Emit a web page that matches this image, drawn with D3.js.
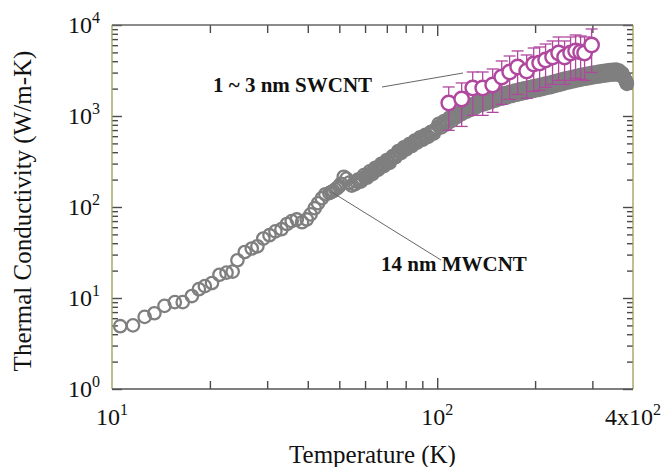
<!DOCTYPE html>
<html>
<head>
<meta charset="utf-8">
<script src="https://cdn.jsdelivr.net/npm/d3@7"></script>
<style>
  body { margin: 0; background: #fff; }
  text { font-family: "Liberation Serif", "Times New Roman", serif; }
</style>
</head>
<body>
<div id="chart"></div>
<script>
// data
// 14 nm MWCNT (grey open circles)
const mwT = [10.6, 11.6, 12.6, 13.5, 14.5, 15.6, 16.5, 17.6, 18.5, 19.3, 20.3, 21.4, 22.5, 23.5, 24.3, 25.6, 26.9, 28.0, 29.2, 30.5,
  31.8, 33.2, 34.5, 35.7, 37.0, 38.4, 39.7, 40.8, 42.0, 43.0, 44.2, 45.3, 46.6, 47.9, 49.3, 50.6, 51.6, 52.6, 53.6, 54.6,
  55.8, 57.0, 58.2, 59.5, 60.8, 62.0, 63.2, 64.5, 65.8, 67.2, 68.6, 70.0, 71.4, 72.9, 74.4, 75.9, 77.4, 78.9, 80.4, 82.0,
  83.6, 85.2, 86.8, 88.5, 90.2, 92.0, 93.8, 95.6, 97.5, 99.4,
  101, 103, 105, 107, 109, 111, 113, 115, 117, 119, 121, 123, 125, 127, 129, 131, 133, 135, 137, 139, 141, 143, 145, 147, 149,
  152, 155, 158, 161, 164, 167, 170, 173, 176, 179, 182, 185, 188, 191, 194, 197, 200, 203, 206, 209, 212, 215, 218, 221, 224,
  227, 230, 233, 236, 239, 242, 245, 248, 251, 255, 259, 263, 267, 271, 275, 279, 283, 287, 291, 295, 299, 303, 307, 311, 315,
  319, 323, 327, 331, 335, 339, 343, 347, 351, 355, 359, 363, 367, 371, 375, 378, 381, 383]
const mwK = [4.9, 5.0, 6.2, 6.8, 8.2, 9.0, 9.0, 10.5, 12.5, 13.5, 14.6, 18, 19, 19.5, 26, 32, 35, 37, 45, 49,
  54, 57, 65, 70, 73, 68, 73, 83, 97, 110, 125, 138, 142, 150, 162, 180, 215, 205, 185, 172,
  178, 200, 190, 224, 210, 246, 230, 270, 256, 298, 282, 328, 306, 362, 352, 412, 392, 452, 430, 490,
  468, 536, 510, 582, 548, 622, 590, 670, 640, 730,
  820, 750, 880, 810, 955, 885, 1050, 975, 1145, 1050, 1220, 1115, 1290, 1170, 1355, 1230, 1425, 1305, 1495, 1345, 1540, 1385, 1590, 1430, 1635,
  1485, 1710, 1550, 1780, 1610, 1845, 1660, 1900, 1715, 1960, 1765, 2015, 1810, 2065, 1855, 2120, 1900, 2160, 1935, 2215, 1990, 2270, 2035, 2320, 2080,
  2380, 2135, 2440, 2190, 2500, 2240, 2560, 2295, 2610, 2350, 2680, 2410, 2750, 2470, 2815, 2525, 2875, 2570, 2925, 2620, 2980, 2665, 3025, 2700, 3070,
  2740, 3110, 2780, 3150, 2815, 3190, 2840, 3210, 2860, 3230, 2860, 3150, 2780, 2950, 2680, 2520, 2380, 2260]
// the dense part of the same curve, points in between the ones above
const mwT2 = [47.2, 48.6, 50.0, 56.4, 57.6, 58.8, 60.1, 61.4, 62.6, 63.8, 65.1, 66.5, 67.9, 69.3, 70.7, 72.1, 73.6, 75.1, 76.6, 78.1,
  79.6, 81.2, 82.8, 84.4, 86.0, 87.6, 89.3, 91.1, 92.9, 94.7, 96.5, 98.4,
  102, 104, 106, 108, 110, 112, 114, 116, 118, 120, 122, 124, 126, 128, 130, 132, 134, 136, 138, 140, 142, 144, 146, 148,
  150.5, 153.5, 156.5, 159.5, 162.5, 165.5, 168.5, 171.5, 174.5, 177.5, 180.5, 183.5, 186.5, 189.5, 192.5, 195.5, 198.5, 201.5, 204.5, 207.5,
  210.5, 213.5, 216.5, 219.5, 222.5, 225.5, 228.5, 231.5, 234.5, 237.5, 240.5, 243.5, 246.5, 249.5,
  253, 257, 261, 265, 269, 273, 277, 281, 285, 289, 293, 297, 301, 305, 309, 313, 317, 321, 325, 329, 333, 337, 341, 345, 349,
  353, 357, 361, 365, 369, 373, 376.5, 379.5, 382]
const mwK2 = [146, 156, 170, 190, 195, 205, 215, 226, 236, 248, 262, 276, 290, 304, 318, 336, 356, 380, 400, 420,
  442, 462, 484, 508, 530, 552, 566, 590, 612, 635, 660, 690,
  785, 815, 845, 880, 920, 965, 1010, 1055, 1095, 1130, 1165, 1200, 1230, 1260, 1295, 1330, 1365, 1400, 1420, 1440, 1465, 1490, 1510, 1530,
  1560, 1600, 1630, 1665, 1695, 1725, 1750, 1780, 1810, 1835, 1860, 1890, 1910, 1940, 1960, 1990, 2010, 2030, 2050, 2075,
  2100, 2130, 2150, 2180, 2200, 2230, 2260, 2285, 2315, 2345, 2370, 2400, 2430, 2450,
  2480, 2515, 2550, 2580, 2610, 2640, 2670, 2700, 2720, 2750, 2770, 2800, 2820, 2845, 2865, 2885, 2905, 2925, 2945, 2965, 2985, 3000, 3015, 3025, 3035,
  3045, 3045, 3020, 2970, 2880, 2750, 2600, 2450, 2330]

// 1 ~ 3 nm SWCNT (magenta open circles with error bars)
const swT = [108.5, 118.9, 128.6, 138.0, 148.1, 157.9, 167.0, 176.7, 188.4, 198.0, 206.5, 215.4, 226.3, 236.2, 246.4, 257.1, 266.4, 276.0, 283.9, 298.4]
const swK = [1390, 1538, 2031, 2031, 2191, 2683, 3044, 3455, 3123, 3727, 3823, 4125, 4450, 4924, 4450, 4924, 5180, 5050, 4924, 6029]
const swErr = [695, 770, 1015, 1015, 1095, 1340, 1520, 1730, 1560, 1860, 1910, 2060, 2225, 2460, 2225, 2460, 2590, 2525, 2460, 3015]

// ticks
const xMinor = [20, 30, 40, 50, 60, 70, 80, 90, 200, 300]
const xMajor = [100]
const xLabels = [{v: 10, base: "10", exp: "1"}, {v: 100, base: "10", exp: "2"}, {v: 400, base: "4x10", exp: "2"}]
const yMajor = [1, 10, 100, 1000, 10000]
const yLabelExp = ["0", "1", "2", "3", "4"]

const width = 666
const height = 467
const margin = {top: 25, bottom: 78, left: 112, right: 33}

const svg = d3.select("#chart").append("svg").attr("width", width).attr("height", height)

const x = d3.scaleLog().domain([10, 400]).range([margin.left, width - margin.right])
const y = d3.scaleLog().domain([1, 10000]).range([height - margin.bottom, margin.top])

const yMinor = []
yMajor.slice(0, -1).forEach(d => { for (let i = 2; i < 10; i++) yMinor.push(d * i) })

const tickColor = "#4a4a4a"
const frameSide = "#9d9d55"

// ticks drawn with axes, labels written by hand (superscripts)
function tickAxis(axis, transform) {
  svg.append("g")
    .attr("transform", transform)
    .call(axis.tickFormat(""))
    .call(g => g.select(".domain").remove())
    .call(g => g.selectAll("line").attr("stroke", tickColor).attr("stroke-width", 1.4))
}
const x0 = margin.left, x1 = width - margin.right
const y0 = height - margin.bottom, y1 = margin.top
tickAxis(d3.axisBottom(x).tickValues(xMinor).tickSize(-8), `translate(0,${y0})`)
tickAxis(d3.axisBottom(x).tickValues(xMajor).tickSize(-11), `translate(0,${y0})`)
tickAxis(d3.axisTop(x).tickValues(xMinor).tickSize(-8), `translate(0,${y1})`)
tickAxis(d3.axisTop(x).tickValues(xMajor).tickSize(-11), `translate(0,${y1})`)
tickAxis(d3.axisLeft(y).tickValues(yMinor).tickSize(-6), `translate(${x0},0)`)
tickAxis(d3.axisLeft(y).tickValues(yMajor).tickSize(-10), `translate(${x0},0)`)
tickAxis(d3.axisRight(y).tickValues(yMinor).tickSize(-6), `translate(${x1},0)`)
tickAxis(d3.axisRight(y).tickValues(yMajor).tickSize(-10), `translate(${x1},0)`)

// frame
svg.append("line").attr("x1", x0).attr("x2", x0).attr("y1", y1).attr("y2", y0).attr("stroke", frameSide).attr("stroke-width", 1.3)
svg.append("line").attr("x1", x1).attr("x2", x1).attr("y1", y1).attr("y2", y0).attr("stroke", frameSide).attr("stroke-width", 1.3)
svg.append("line").attr("x1", x0).attr("x2", x1).attr("y1", y0).attr("y2", y0).attr("stroke", "#555").attr("stroke-width", 1.6)
svg.append("line").attr("x1", x0).attr("x2", x1).attr("y1", y1).attr("y2", y1).attr("stroke", "#666").attr("stroke-width", 1.4)

// tick labels
const xl = svg.append("g").selectAll("text").data(xLabels).join("text")
  .attr("x", d => x(d.v)).attr("y", y0 + 36)
  .attr("text-anchor", "middle").attr("font-size", 24).attr("fill", "#111")
xl.append("tspan").text(d => d.base)
xl.append("tspan").text(d => d.exp).attr("font-size", 16).attr("dy", -10)

const yl = svg.append("g").selectAll("text").data(yMajor).join("text")
  .attr("x", x0 - 12).attr("y", d => y(d) + 8)
  .attr("text-anchor", "end").attr("font-size", 24).attr("fill", "#111")
yl.append("tspan").text("10")
yl.append("tspan").text((d, i) => yLabelExp[i]).attr("font-size", 16).attr("dy", -10)

// axis titles
svg.append("text").attr("x", (x0 + x1) / 2).attr("y", height - 4)
  .attr("text-anchor", "middle").attr("font-size", 25).attr("fill", "#111")
  .text("Temperature (K)")
svg.append("text").attr("transform", `translate(31,${(y0 + y1) / 2 + 4}) rotate(-90)`)
  .attr("text-anchor", "middle").attr("font-size", 25).attr("fill", "#111")
  .text("Thermal Conductivity (W/m-K)")

// MWCNT points
const mw = mwT.map((t, i) => ({t: t, k: mwK[i]}))
  .concat(mwT2.map((t, i) => ({t: t, k: mwK2[i]})))
svg.append("g").selectAll("circle").data(mw).join("circle")
  .attr("cx", d => x(d.t)).attr("cy", d => y(d.k)).attr("r", 6.2)
  .attr("fill", "none").attr("stroke", "#7f7f7f").attr("stroke-width", 2.3)

// SWCNT points with error bars
const swColor = "#b0479f"
const sw = swT.map((t, i) => ({t: t, k: swK[i], e: swErr[i]}))
const eb = svg.append("g").selectAll("g").data(sw).join("g")
  .attr("stroke", swColor).attr("stroke-width", 1.3)
eb.append("line").attr("x1", d => x(d.t)).attr("x2", d => x(d.t))
  .attr("y1", d => y(d.k + d.e)).attr("y2", d => y(d.k - d.e))
eb.append("line").attr("x1", d => x(d.t) - 6).attr("x2", d => x(d.t) + 6)
  .attr("y1", d => y(d.k + d.e)).attr("y2", d => y(d.k + d.e))
eb.append("line").attr("x1", d => x(d.t) - 6).attr("x2", d => x(d.t) + 6)
  .attr("y1", d => y(d.k - d.e)).attr("y2", d => y(d.k - d.e))
svg.append("g").selectAll("circle").data(sw).join("circle")
  .attr("cx", d => x(d.t)).attr("cy", d => y(d.k)).attr("r", 7.2)
  .attr("fill", "#fff").attr("stroke", swColor).attr("stroke-width", 2.4)

// annotations
svg.append("line").attr("x1", 382).attr("y1", 87).attr("x2", 463).attr("y2", 73)
  .attr("stroke", "#666").attr("stroke-width", 1)
svg.append("text").attr("x", 213).attr("y", 92).attr("font-size", 21).attr("font-weight", "bold").attr("fill", "#111")
  .text("1 ~ 3 nm SWCNT")
svg.append("line").attr("x1", x(47.5)).attr("y1", y(145)).attr("x2", 441).attr("y2", 260)
  .attr("stroke", "#666").attr("stroke-width", 1)
svg.append("text").attr("x", 381).attr("y", 271).attr("font-size", 21).attr("font-weight", "bold").attr("fill", "#111")
  .text("14 nm MWCNT")
</script>
</body>
</html>
